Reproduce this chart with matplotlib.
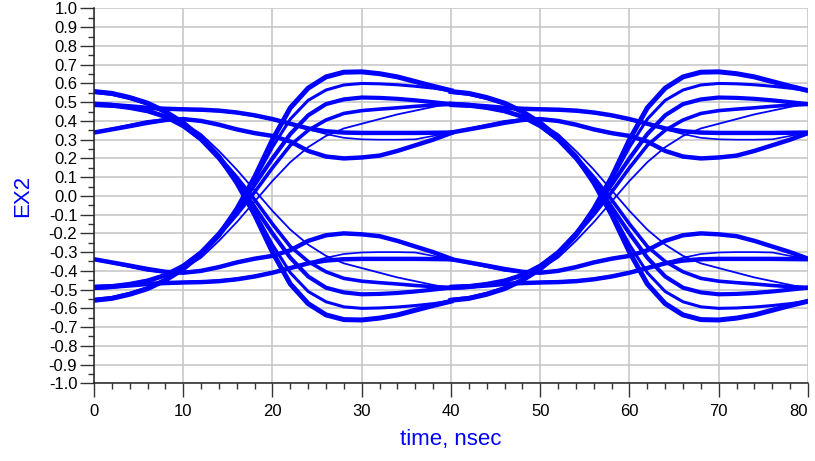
import numpy as np
import matplotlib
matplotlib.use('Agg')
import matplotlib.pyplot as plt
from matplotlib.ticker import MultipleLocator, FormatStrFormatter

plt.rcParams['font.family'] = ['Liberation Sans', 'DejaVu Sans']
plt.rcParams['axes.unicode_minus'] = False

# time points of one bit period, nsec (the eye shows two periods)
ui_time = [0, 2, 4, 6, 8, 10, 12, 14, 16, 18, 20, 22, 24, 26, 28, 30, 32, 34, 36, 38, 40]
period = 40
x_ticks = [0, 10, 20, 30, 40, 50, 60, 70, 80]

# rising transitions (low -> high)
rise_1 = [-0.557, -0.547, -0.525, -0.495, -0.45, -0.39, -0.31, -0.21, -0.07, 0.10, 0.30,
          0.47, 0.575, 0.635, 0.66, 0.662, 0.652, 0.635, 0.61, 0.585, 0.562]
rise_2 = [-0.552, -0.542, -0.52, -0.49, -0.445, -0.385, -0.305, -0.205, -0.075, 0.085, 0.26,
          0.41, 0.51, 0.565, 0.592, 0.60, 0.598, 0.593, 0.585, 0.575, 0.562]
rise_3 = [-0.492, -0.486, -0.473, -0.455, -0.425, -0.375, -0.30, -0.20, -0.08, 0.06, 0.20,
          0.33, 0.43, 0.49, 0.515, 0.525, 0.523, 0.518, 0.51, 0.50, 0.49]
rise_4 = [-0.485, -0.48, -0.468, -0.45, -0.42, -0.37, -0.30, -0.21, -0.10, 0.02, 0.15,
          0.27, 0.35, 0.405, 0.44, 0.455, 0.463, 0.47, 0.478, 0.484, 0.488]
rise_5 = [-0.34, -0.36, -0.38, -0.40, -0.41, -0.39, -0.33, -0.24, -0.14, -0.03, 0.08,
          0.18, 0.26, 0.32, 0.36, 0.385, 0.41, 0.435, 0.455, 0.475, 0.495]

# traces that stay high over the period
stay_1 = [0.49, 0.485, 0.478, 0.47, 0.465, 0.462, 0.46, 0.455, 0.445, 0.43, 0.41,
          0.385, 0.36, 0.345, 0.338, 0.336, 0.336, 0.336, 0.336, 0.337, 0.338]
stay_2 = [0.338, 0.355, 0.372, 0.39, 0.405, 0.41, 0.40, 0.38, 0.355, 0.335, 0.32,
          0.29, 0.24, 0.21, 0.20, 0.205, 0.215, 0.24, 0.27, 0.30, 0.335]
stay_3 = [0.478, 0.475, 0.47, 0.465, 0.46, 0.458, 0.455, 0.45, 0.44, 0.425, 0.405,
          0.38, 0.355, 0.33, 0.31, 0.302, 0.30, 0.30, 0.302, 0.32, 0.338]

traces = [(rise_1, 3.6), (rise_2, 2.2), (rise_3, 3.0), (rise_4, 2.6), (rise_5, 1.3),
          (stay_1, 3.2), (stay_2, 3.2), (stay_3, 1.2)]

fig, ax = plt.subplots(figsize=(8.15, 4.61), dpi=100)
fig.subplots_adjust(left=0.1153, right=0.9914, bottom=0.1685, top=0.9816)

for vals, lw in traces:
    v = np.array(vals)
    for k in range(2):
        tt = np.array(ui_time) + k * period
        ax.plot(tt, v, color='#0000ff', lw=lw)
        # eye is symmetric about zero
        ax.plot(tt, -v, color='#0000ff', lw=lw)

ax.set_xlim(0, 80)
ax.set_ylim(-1.0, 1.0)
ax.set_xticks(x_ticks)
ax.xaxis.set_minor_locator(MultipleLocator(2))
ax.yaxis.set_major_locator(MultipleLocator(0.1))
ax.yaxis.set_minor_locator(MultipleLocator(0.05))
ax.yaxis.set_major_formatter(FormatStrFormatter('%.1f'))

ax.grid(True, which='major', color='#c4c4c4', lw=1.1)
ax.set_axisbelow(True)
for s in ['top', 'right']:
    ax.spines[s].set_visible(False)
for s in ['left', 'bottom']:
    ax.spines[s].set_color('#222222')
    ax.spines[s].set_linewidth(1.1)

ax.tick_params(axis='both', which='major', direction='out', length=10, width=1.0,
               color='#333333', labelsize=12)
ax.tick_params(axis='both', which='minor', direction='out', length=4.5, width=1.0, color='#333333')
ax.tick_params(axis='y', which='major', pad=2)
ax.tick_params(axis='x', which='major', pad=5)

ax.set_xlabel('time, nsec', fontsize=16, color='#0000ff')
ax.set_ylabel('EX2', fontsize=16, color='#0000ff')
ax.xaxis.set_label_coords(0.5, -0.151)
ax.xaxis.label.set_va('center')
ax.yaxis.set_label_coords(-0.1, 0.5)
ax.yaxis.label.set_va('center')

# keep the last x tick label inside the figure
ax.xaxis.get_major_ticks()[-1].label1.set_horizontalalignment('right')

fig.savefig('out.png', dpi=100)
